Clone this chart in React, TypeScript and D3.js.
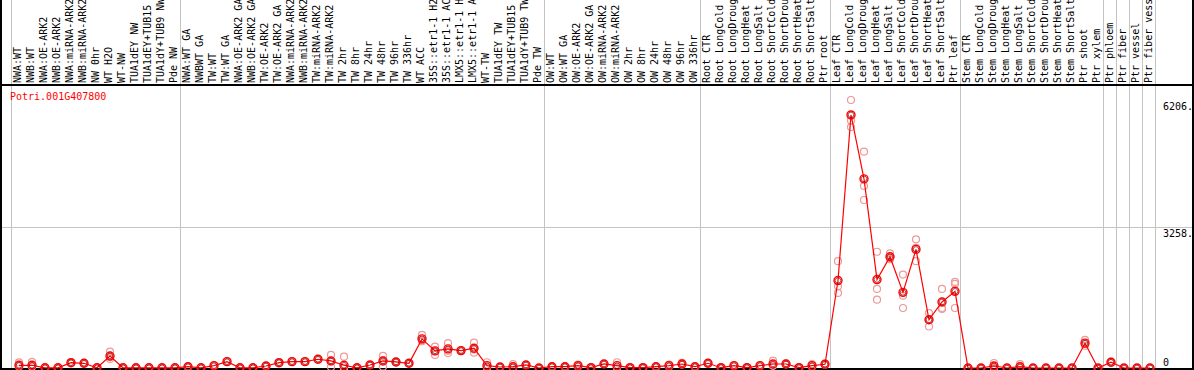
import React from "react";
import * as d3 from "d3";

const geneName = "Potri.001G407800";

const categories: string[] = [
  "NWA:WT", "NWB:WT", "NWA:OE-ARK2", "NWB:OE-ARK2", "NWA:miRNA-ARK2", "NWB:miRNA-ARK2", "NW 0hr", "WT H2O", "WT-NW", "TUA1dEY NW", "TUA1dEY+TUB15 NW", "TUA1dY+TUB9 NW", "Pde NW",
  "NWA:WT GA", "NWBWT GA", "TW:WT", "TW:WT GA", "NWA:OE-ARK2 GA", "NWB:OE-ARK2 GA", "TW:OE-ARK2", "TW:OE-ARK2 GA", "NWA:miRNA-ARK2", "NWB:miRNA-ARK2", "TW:miRNA-ARK2", "TW:miRNA-ARK2", "TW 2hr", "TW 8hr", "TW 24hr", "TW 48hr", "TW 96hr", "TW 336hr", "WT ACC", "35S::etr1-1 H2O", "35S::etr1-1 ACC", "LMX5::etr1-1 H2O", "LMX5::etr1-1 ACC", "WT-TW", "TUA1dEY TW", "TUA1dEY+TUB15 TW", "TUA1dY+TUB9 TW", "Pde TW",
  "OW:WT", "OW:WT GA", "OW:OE-ARK2", "OW:OE-ARK2 GA", "OW:miRNA-ARK2", "OW:miRNA-ARK2", "OW 2hr", "OW 8hr", "OW 24hr", "OW 48hr", "OW 96hr", "OW 336hr",
  "Root CTR", "Root LongCold", "Root LongDrought", "Root LongHeat", "Root LongSalt", "Root ShortCold", "Root ShortDrought", "Root ShortHeat", "Root ShortSalt", "Ptr root",
  "Leaf CTR", "Leaf LongCold", "Leaf LongDrought", "Leaf LongHeat", "Leaf LongSalt", "Leaf ShortCold", "Leaf ShortDrought", "Leaf ShortHeat", "Leaf ShortSalt", "Ptr leaf",
  "Stem CTR", "Stem LongCold", "Stem LongDrought", "Stem LongHeat", "Stem LongSalt", "Stem ShortCold", "Stem ShortDrought", "Stem ShortHeat", "Stem ShortSalt", "Ptr shoot", "Ptr xylem",
  "Ptr phloem", "Ptr fiber", "Ptr vessel", "Ptr fiber vessel",
];

// index of the first category of each group (a grey separator is drawn before it), plus the end
const groupStarts: number[] = [0, 13, 41, 53, 63, 73, 84, 85, 86, 87, 88];

const means: number[] = [
  63, 63, 5, 5, 123, 109, 5, 279, 5, 5, 5, 5, 5,
  30, 5, 54, 147, 5, 5, 47, 123, 147, 147, 202, 163, 63, 5, 70, 163, 140, 109, 675, 396, 442, 403, 458, 54, 23, 30, 70, 0,
  30, 30, 54, 7, 93, 54, 7, 7, 30, 54, 93, 30,
  109, 7, 54, 7, 54, 93, 93, 7, 54, 86,
  2025, 5860, 4380, 2048, 2576, 1752, 2746, 1117, 1529, 1776,
  0, 0, 47, 0, 30, 0, 0, 0, 0, 575, 0,
  133, 0, 0, 0,
];

const replicates: number[][] = [
  [60, 130, 40], [140, 50, 30], [5, 5, 5], [5, 5, 5], [130, 115, 125], [110, 100, 115], [5, 5, 5], [380, 250, 210], [5, 5, 5], [5, 5, 5], [5, 5, 5], [5, 5, 5], [5, 5, 5],
  [30, 35, 25], [5, 5, 5], [55, 50, 58], [150, 140, 150], [5, 5, 5], [5, 5, 5], [47, 45, 50], [125, 120, 124], [150, 145, 147], [150, 145, 147], [210, 195, 200], [302, 163, 25], [263, 5, 0], [5, 5, 5], [70, 65, 75], [279, 30, 180], [140, 145, 135], [110, 105, 112], [768, 640, 617], [496, 302, 390], [575, 400, 350], [403, 410, 395], [589, 356, 430], [133, 20, 10], [23, 20, 25], [90, 0, 0], [70, 65, 75], [0, 0, 0],
  [30, 32, 28], [30, 32, 28], [80, 40, 42], [7, 7, 7], [93, 95, 90], [133, 20, 10], [7, 7, 7], [7, 7, 7], [30, 32, 28], [80, 40, 42], [120, 80, 80], [30, 32, 28],
  [120, 100, 107], [7, 7, 7], [54, 56, 52], [7, 7, 7], [54, 56, 52], [170, 60, 50], [110, 85, 84], [7, 7, 7], [90, 40, 32], [100, 80, 78],
  [2474, 1892, 1738], [6206, 5732, 5578], [5010, 4215, 3890], [2692, 1831, 1582], [2653, 2550, 2520], [2164, 1675, 1389], [2979, 2474, 2780], [1273, 961, 1117], [1831, 1366, 1390], [1994, 1948, 1389],
  [0, 0, 0], [0, 0, 0], [116, 20, 5], [0, 0, 0], [90, 0, 0], [0, 0, 0], [0, 0, 0], [0, 0, 0], [0, 0, 0], [652, 560, 513], [0, 0, 0],
  [150, 125, 124], [0, 0, 0], [0, 0, 0], [0, 0, 0],
];

const tickValues: number[] = [0, 3258, 6206];
const tickLabels: string[] = ["0", "3258.", "6206."];

const W = 1194;
const H = 370;
const FONT = "'DejaVu Sans Mono', monospace";

export default function App() {
  const idx = d3.range(categories.length);
  const x = d3
    .scaleBand<number>()
    .domain(idx)
    .range([11, 11 + categories.length * 13])
    .paddingInner(0)
    .paddingOuter(0);
  const bw = x.bandwidth();
  const y = d3.scaleLinear().domain([0, 6206]).range([368, 100]);
  const px = (i: number) => (x(i) as number) + 8;

  const line = d3
    .line<number>()
    .x((_, i) => px(i))
    .y((d) => y(d));

  const sepX = groupStarts.map((g) => 11 + g * bw);
  const axisX = 1163;

  return (
    <svg
      width={W}
      height={H}
      style={{ position: "absolute", left: 0, top: 0, background: "#fff" }}
      fontFamily={FONT}
      fontSize={10}
    >
      <rect x={0} y={0} width={W} height={H} fill="#fff" />
      {/* grid */}
      {sepX.map((sx, i) => (
        <line key={"v" + i} x1={Math.round(sx) + 0.5} x2={Math.round(sx) + 0.5} y1={0} y2={368} stroke="#c4c4c4" strokeWidth={1} />
      ))}
      <line x1={0} x2={W} y1={Math.round(y(3258)) + 0.5} y2={Math.round(y(3258)) + 0.5} stroke="#c4c4c4" strokeWidth={1} />

      {/* category labels */}
      {categories.map((c, i) => {
        const lx = (x(i) as number) + 10;
        return (
          <text key={"l" + i} transform={`translate(${lx},83) rotate(-90)`} fill="#000">
            {c}
          </text>
        );
      })}

      {/* borders */}
      <line x1={0} x2={W} y1={85} y2={85} stroke="#000" strokeWidth={2} />
      <line x1={0} x2={W} y1={369} y2={369} stroke="#000" strokeWidth={2} />
      <line x1={1} x2={1} y1={0} y2={H} stroke="#000" strokeWidth={2} />
      <line x1={1193} x2={1193} y1={0} y2={H} stroke="#000" strokeWidth={2} />

      {/* gene name */}
      <text x={10} y={100} fill="#ff0000">{geneName}</text>

      {/* y axis labels */}
      {tickValues.map((v, i) => (
        <text key={"t" + i} x={axisX} y={Math.min(y(v) + 10, y(0) - 2)} fill="#000">
          {tickLabels[i]}
        </text>
      ))}

      {/* replicates */}
      {replicates.map((reps, i) =>
        reps.map((r, j) => (
          <circle key={`r${i}-${j}`} cx={px(i)} cy={y(r)} r={3.5} fill="none" stroke="#ec9a9a" strokeWidth={1.2} />
        ))
      )}

      {/* mean line */}
      <path d={line(means) || ""} fill="none" stroke="#ff0000" strokeWidth={1.2} />

      {/* means */}
      {means.map((m, i) => (
        <g key={"m" + i}>
          <circle cx={px(i)} cy={y(m)} r={4} fill="none" stroke="#ff0000" strokeWidth={1.4} />
          <circle cx={px(i)} cy={y(m)} r={2.8} fill="none" stroke="#8a0000" strokeWidth={0.7} />
        </g>
      ))}
    </svg>
  );
}
